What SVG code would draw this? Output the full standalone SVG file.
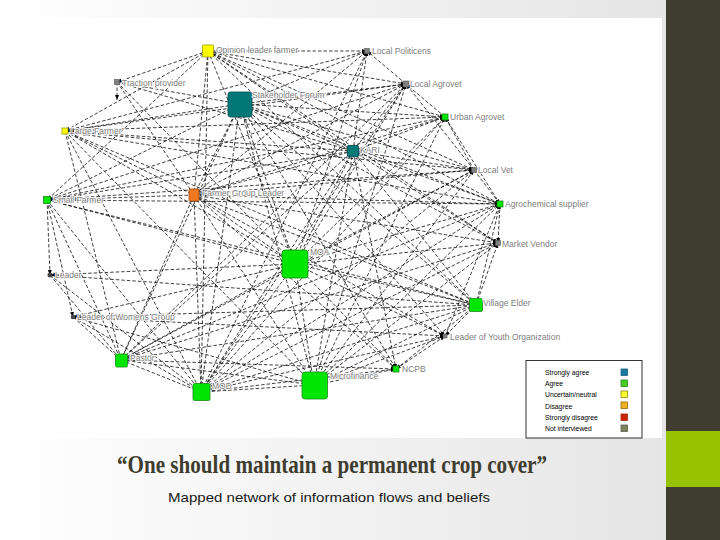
<svg xmlns="http://www.w3.org/2000/svg" width="720" height="540" viewBox="0 0 720 540">
<defs>
<linearGradient id="bg" x1="0" y1="0" x2="1" y2="0">
<stop offset="0" stop-color="#ffffff"/>
<stop offset="1" stop-color="#e3e3e3"/>
</linearGradient>
<marker id="ah" viewBox="0 0 10 10" refX="10" refY="5" markerWidth="5" markerHeight="5" orient="auto" markerUnits="userSpaceOnUse">
<path d="M0,1L10,5L0,9z" fill="#000"/>
</marker>
</defs>
<style>
#connectors line{stroke:#000;stroke-width:0.75;stroke-dasharray:3.5,2;fill:none;marker-end:url(#ah)}
.lbl{font-family:"Liberation Sans",Arial,sans-serif;font-size:8.5px;fill:#808080;stroke:#fff;stroke-width:2;stroke-opacity:0.85;paint-order:stroke;stroke-linejoin:round}
.lg{font-family:"Liberation Sans",Arial,sans-serif;font-size:6.8px;fill:#000}
.g{fill:#00e600;stroke:#1a8a1a;stroke-width:0.8}
.t{fill:#007878;stroke:#004c4c;stroke-width:0.8}
.y{fill:#ffff00;stroke:#9a9a00;stroke-width:0.8}
.gr{fill:#808080;stroke:#555;stroke-width:0.6}
.sw{stroke-width:0.8}
</style>
<rect x="0" y="0" width="720" height="540" fill="url(#bg)"/>
<rect x="30" y="18" width="632" height="420" fill="#ffffff"/>
<rect x="666" y="0" width="54" height="540" fill="#3f3d2f"/>
<rect x="666" y="431" width="54" height="56" fill="#97c200"/>

<g id="connectors">
<line x1="208" y1="51" x2="367" y2="51"/>
<line x1="208" y1="51" x2="117" y2="82"/>
<line x1="208" y1="51" x2="406" y2="84"/>
<line x1="208" y1="51" x2="445" y2="117"/>
<line x1="208" y1="51" x2="65" y2="131"/>
<line x1="208" y1="51" x2="353" y2="151"/>
<line x1="208" y1="51" x2="474" y2="170"/>
<line x1="208" y1="51" x2="194" y2="195"/>
<line x1="208" y1="51" x2="500" y2="204"/>
<line x1="208" y1="51" x2="295" y2="264"/>
<line x1="208" y1="51" x2="476" y2="305"/>
<line x1="208" y1="51" x2="201" y2="392"/>
<line x1="208" y1="51" x2="47" y2="200"/>
<line x1="208" y1="51" x2="498" y2="243"/>
<line x1="240" y1="104" x2="367" y2="51"/>
<line x1="353" y1="151" x2="367" y2="51"/>
<line x1="194" y1="195" x2="367" y2="51"/>
<line x1="295" y1="264" x2="367" y2="51"/>
<line x1="406" y1="84" x2="367" y2="51"/>
<line x1="201" y1="392" x2="367" y2="51"/>
<line x1="65" y1="131" x2="367" y2="51"/>
<line x1="117" y1="82" x2="194" y2="195"/>
<line x1="117" y1="82" x2="295" y2="264"/>
<line x1="117" y1="82" x2="353" y2="151"/>
<line x1="117" y1="82" x2="240" y2="104"/>
<line x1="117" y1="82" x2="117" y2="100"/>
<line x1="240" y1="104" x2="406" y2="84"/>
<line x1="240" y1="104" x2="445" y2="117"/>
<line x1="240" y1="104" x2="353" y2="151"/>
<line x1="240" y1="104" x2="474" y2="170"/>
<line x1="240" y1="104" x2="47" y2="200"/>
<line x1="240" y1="104" x2="194" y2="195"/>
<line x1="240" y1="104" x2="500" y2="204"/>
<line x1="240" y1="104" x2="498" y2="243"/>
<line x1="240" y1="104" x2="295" y2="264"/>
<line x1="240" y1="104" x2="476" y2="305"/>
<line x1="240" y1="104" x2="121" y2="360"/>
<line x1="240" y1="104" x2="201" y2="392"/>
<line x1="240" y1="104" x2="314" y2="385"/>
<line x1="240" y1="104" x2="65" y2="131"/>
<line x1="240" y1="104" x2="396" y2="369"/>
<line x1="240" y1="104" x2="445" y2="336"/>
<line x1="445" y1="117" x2="406" y2="84"/>
<line x1="353" y1="151" x2="406" y2="84"/>
<line x1="194" y1="195" x2="406" y2="84"/>
<line x1="295" y1="264" x2="406" y2="84"/>
<line x1="65" y1="131" x2="406" y2="84"/>
<line x1="201" y1="392" x2="406" y2="84"/>
<line x1="314" y1="385" x2="406" y2="84"/>
<line x1="474" y1="170" x2="406" y2="84"/>
<line x1="121" y1="360" x2="406" y2="84"/>
<line x1="47" y1="200" x2="406" y2="84"/>
<line x1="353" y1="151" x2="445" y2="117"/>
<line x1="474" y1="170" x2="445" y2="117"/>
<line x1="65" y1="131" x2="445" y2="117"/>
<line x1="194" y1="195" x2="445" y2="117"/>
<line x1="295" y1="264" x2="445" y2="117"/>
<line x1="201" y1="392" x2="445" y2="117"/>
<line x1="314" y1="385" x2="445" y2="117"/>
<line x1="47" y1="200" x2="445" y2="117"/>
<line x1="500" y1="204" x2="445" y2="117"/>
<line x1="65" y1="131" x2="353" y2="151"/>
<line x1="65" y1="131" x2="194" y2="195"/>
<line x1="65" y1="131" x2="295" y2="264"/>
<line x1="65" y1="131" x2="121" y2="360"/>
<line x1="65" y1="131" x2="201" y2="392"/>
<line x1="65" y1="131" x2="314" y2="385"/>
<line x1="65" y1="131" x2="476" y2="305"/>
<line x1="65" y1="131" x2="474" y2="170"/>
<line x1="65" y1="131" x2="500" y2="204"/>
<line x1="353" y1="151" x2="474" y2="170"/>
<line x1="353" y1="151" x2="194" y2="195"/>
<line x1="353" y1="151" x2="500" y2="204"/>
<line x1="353" y1="151" x2="295" y2="264"/>
<line x1="353" y1="151" x2="476" y2="305"/>
<line x1="353" y1="151" x2="201" y2="392"/>
<line x1="353" y1="151" x2="314" y2="385"/>
<line x1="353" y1="151" x2="47" y2="200"/>
<line x1="353" y1="151" x2="498" y2="243"/>
<line x1="353" y1="151" x2="121" y2="360"/>
<line x1="353" y1="151" x2="396" y2="369"/>
<line x1="474" y1="170" x2="500" y2="204"/>
<line x1="194" y1="195" x2="474" y2="170"/>
<line x1="295" y1="264" x2="474" y2="170"/>
<line x1="201" y1="392" x2="474" y2="170"/>
<line x1="314" y1="385" x2="474" y2="170"/>
<line x1="47" y1="200" x2="474" y2="170"/>
<line x1="121" y1="360" x2="474" y2="170"/>
<line x1="47" y1="200" x2="194" y2="195"/>
<line x1="47" y1="200" x2="295" y2="264"/>
<line x1="47" y1="200" x2="50" y2="275"/>
<line x1="47" y1="200" x2="73" y2="317"/>
<line x1="47" y1="200" x2="121" y2="360"/>
<line x1="47" y1="200" x2="201" y2="392"/>
<line x1="47" y1="200" x2="500" y2="204"/>
<line x1="47" y1="200" x2="476" y2="305"/>
<line x1="194" y1="195" x2="500" y2="204"/>
<line x1="194" y1="195" x2="498" y2="243"/>
<line x1="194" y1="195" x2="295" y2="264"/>
<line x1="194" y1="195" x2="476" y2="305"/>
<line x1="194" y1="195" x2="121" y2="360"/>
<line x1="194" y1="195" x2="201" y2="392"/>
<line x1="194" y1="195" x2="314" y2="385"/>
<line x1="194" y1="195" x2="445" y2="336"/>
<line x1="194" y1="195" x2="396" y2="369"/>
<line x1="500" y1="204" x2="498" y2="243"/>
<line x1="295" y1="264" x2="500" y2="204"/>
<line x1="476" y1="305" x2="500" y2="204"/>
<line x1="201" y1="392" x2="500" y2="204"/>
<line x1="314" y1="385" x2="500" y2="204"/>
<line x1="121" y1="360" x2="500" y2="204"/>
<line x1="445" y1="336" x2="500" y2="204"/>
<line x1="295" y1="264" x2="498" y2="243"/>
<line x1="476" y1="305" x2="498" y2="243"/>
<line x1="201" y1="392" x2="498" y2="243"/>
<line x1="314" y1="385" x2="498" y2="243"/>
<line x1="121" y1="360" x2="498" y2="243"/>
<line x1="295" y1="264" x2="476" y2="305"/>
<line x1="295" y1="264" x2="445" y2="336"/>
<line x1="295" y1="264" x2="121" y2="360"/>
<line x1="295" y1="264" x2="396" y2="369"/>
<line x1="295" y1="264" x2="201" y2="392"/>
<line x1="295" y1="264" x2="314" y2="385"/>
<line x1="295" y1="264" x2="73" y2="317"/>
<line x1="295" y1="264" x2="50" y2="275"/>
<line x1="50" y1="275" x2="201" y2="392"/>
<line x1="50" y1="275" x2="121" y2="360"/>
<line x1="476" y1="305" x2="201" y2="392"/>
<line x1="476" y1="305" x2="314" y2="385"/>
<line x1="476" y1="305" x2="396" y2="369"/>
<line x1="121" y1="360" x2="476" y2="305"/>
<line x1="476" y1="305" x2="445" y2="336"/>
<line x1="73" y1="317" x2="476" y2="305"/>
<line x1="73" y1="317" x2="201" y2="392"/>
<line x1="73" y1="317" x2="121" y2="360"/>
<line x1="73" y1="317" x2="314" y2="385"/>
<line x1="445" y1="336" x2="201" y2="392"/>
<line x1="314" y1="385" x2="445" y2="336"/>
<line x1="396" y1="369" x2="445" y2="336"/>
<line x1="121" y1="360" x2="201" y2="392"/>
<line x1="121" y1="360" x2="314" y2="385"/>
<line x1="121" y1="360" x2="396" y2="369"/>
<line x1="314" y1="385" x2="396" y2="369"/>
<line x1="201" y1="392" x2="396" y2="369"/>
<line x1="314" y1="385" x2="201" y2="392"/>
<line x1="73" y1="317" x2="445" y2="336"/>
<line x1="50" y1="275" x2="476" y2="305"/>
</g>

<g id="n-opinion-leader-farmer"><rect class="y" x="202.5" y="45" width="11" height="12" rx="1"/><text class="lbl" x="216" y="53">Opinion leader farmer</text></g>
<g id="n-local-politicens"><rect class="gr" x="364.5" y="48.5" width="5" height="5"/><text class="lbl" x="372" y="54">Local Politicens</text></g>
<g id="n-traction-provider"><rect class="gr" x="114.5" y="79.5" width="5" height="5"/><text class="lbl" x="122" y="86">Traction provider</text></g>
<g id="n-stakeholder-forum"><rect class="t" x="228" y="92" width="24" height="25" rx="2.5"/><text class="lbl" x="252" y="98">Stakeholder Forum</text></g>
<g id="n-local-agrovet"><rect class="gr" x="403" y="81" width="6" height="6"/><text class="lbl" x="410" y="87">Local Agrovet</text></g>
<g id="n-urban-agrovet"><rect class="g" x="442" y="114" width="6" height="6"/><text class="lbl" x="450" y="120">Urban Agrovet</text></g>
<g id="n-large-farmer"><rect class="y" x="62" y="128" width="6" height="6"/><text class="lbl" x="70" y="134">Large Farmer</text></g>
<g id="n-kari"><rect class="t" x="347.5" y="145.5" width="11" height="11" rx="1"/><text class="lbl" x="360" y="153">KARI</text></g>
<g id="n-local-vet"><rect class="gr" x="471.5" y="167.5" width="5" height="5"/><text class="lbl" x="478" y="173">Local Vet</text></g>
<g id="n-small-farmer"><rect class="g" x="43.5" y="196.5" width="7" height="7"/><text class="lbl" x="53" y="203">Small Farmer</text></g>
<g id="n-farmer-group-leader"><rect fill="#f0781e" stroke="#a04a10" stroke-width="0.8" x="189" y="189" width="10" height="12" rx="1"/><text class="lbl" x="202" y="196">Farmer Group Leader</text></g>
<g id="n-agrochemical-supplier"><rect class="g" x="497" y="201" width="6" height="6"/><text class="lbl" x="505" y="207">Agrochemical supplier</text></g>
<g id="n-market-vendor"><rect class="gr" x="495.5" y="240.5" width="5" height="5"/><text class="lbl" x="502" y="247">Market Vendor</text></g>
<g id="n-moa"><rect class="g" x="282" y="250" width="26" height="28" rx="3"/><text class="lbl" x="310" y="255">MOA</text></g>
<g id="n-leader"><circle fill="#444" cx="50" cy="275" r="2.5"/><text class="lbl" x="55" y="278">Leader</text></g>
<g id="n-village-elder"><rect class="g" x="469.5" y="298.5" width="13" height="13" rx="1.5"/><text class="lbl" x="483" y="306">Village Elder</text></g>
<g id="n-leader-womens-group"><circle fill="#444" cx="73" cy="317" r="2.3"/><text class="lbl" x="77" y="320">Leader of Womens Group</text></g>
<g id="n-leader-youth-org"><rect class="gr" x="443" y="334" width="4" height="4"/><text class="lbl" x="450" y="340">Leader of Youth Organization</text></g>
<g id="n-pastor"><rect class="g" x="115.5" y="354" width="12" height="13" rx="1.5"/><text class="lbl" x="130" y="361">Pastor</text></g>
<g id="n-ncpb"><rect class="g" x="393" y="366" width="6" height="6"/><text class="lbl" x="402" y="372">NCPB</text></g>
<g id="n-mod"><rect class="g" x="193" y="383.5" width="17" height="17" rx="1.5"/><text class="lbl" x="212" y="389">MOD</text></g>
<g id="n-microfinance"><rect class="g" x="302" y="372" width="25.5" height="27" rx="3"/><text class="lbl" x="330" y="379">Microfinance</text></g>

<g id="legend">
<rect x="526" y="360.5" width="116" height="77.5" fill="#fff" stroke="#000" stroke-width="0.8"/>
<text class="lg" x="545" y="375">Strongly agree</text>
<text class="lg" x="545" y="386">Agree</text>
<text class="lg" x="545" y="397">Uncertain/neutral</text>
<text class="lg" x="545" y="409">Disagree</text>
<text class="lg" x="545" y="420">Strongly disagree</text>
<text class="lg" x="545" y="431">Not interviewed</text>
<rect class="sw" x="621" y="369" width="6.5" height="6.5" fill="#1a78a0" stroke="#236080"/>
<rect class="sw" x="621" y="380" width="6.5" height="6.5" fill="#44cc22" stroke="#2a8a2a"/>
<rect class="sw" x="621" y="391" width="6.5" height="6.5" fill="#ffff33" stroke="#8a8a00"/>
<rect class="sw" x="621" y="402" width="6.5" height="6.5" fill="#f0b020" stroke="#8a6a10"/>
<rect class="sw" x="621" y="414" width="6.5" height="6.5" fill="#cc2200" stroke="#a03010"/>
<rect class="sw" x="621" y="425" width="6.5" height="6.5" fill="#7a8060" stroke="#5a6048"/>
</g>

<text x="332" y="473" text-anchor="middle" font-family="'Liberation Serif',serif" font-weight="bold" font-size="25" fill="#3f3d2f" textLength="430" lengthAdjust="spacingAndGlyphs">“One should maintain a permanent crop cover”</text>
<text x="329" y="502" text-anchor="middle" font-family="'Liberation Sans',Arial,sans-serif" font-size="13.5" fill="#1a1a1a" textLength="322" lengthAdjust="spacingAndGlyphs">Mapped network of information flows and beliefs</text>
</svg>
